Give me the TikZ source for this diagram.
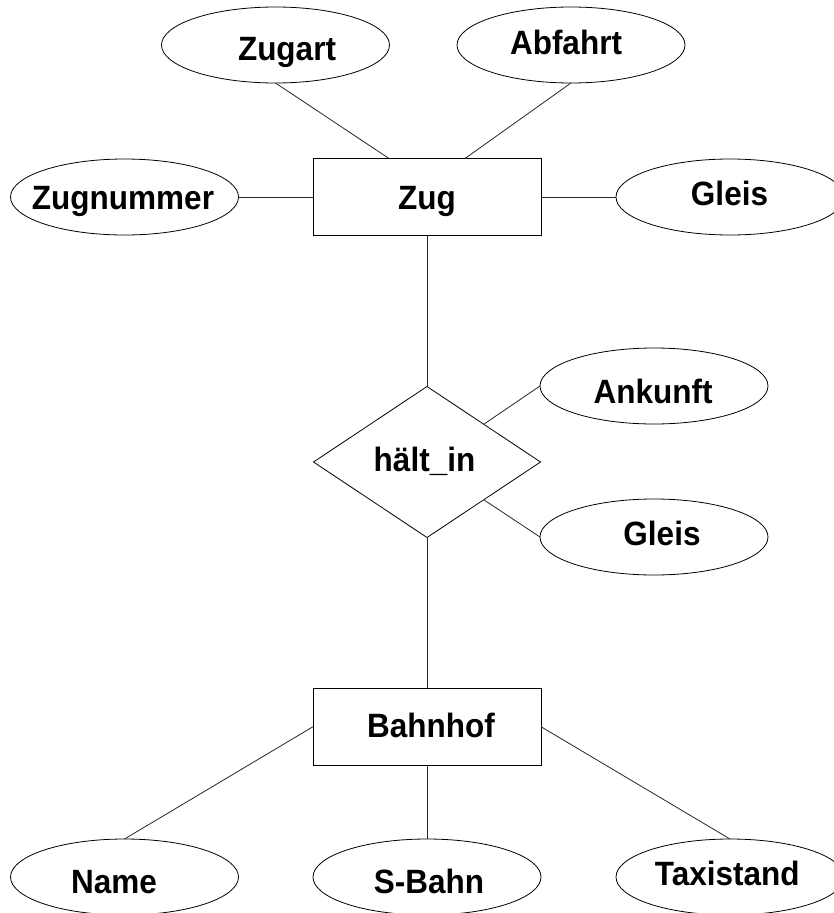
\documentclass[tikz,border=0pt]{standalone}
\usepackage{fontspec}
\setmainfont{Liberation Sans}
\usetikzlibrary{shapes.geometric,calc}
\newcommand{\erlab}[1]{\scalebox{1}[1.07]{#1}}
\begin{document}
\begin{tikzpicture}[x=1pt,y=-1pt,
  every node/.style={inner sep=0pt, outer sep=0pt},
  attr/.style={draw, ellipse, line width=0.8pt, minimum width=228pt, minimum height=76pt},
  ent/.style={draw, rectangle, line width=0.8pt, minimum width=228pt, minimum height=77pt},
  rel/.style={draw, diamond, line width=0.8pt, minimum width=227pt, minimum height=151pt},
  lbl/.style={anchor=base, font=\fontsize{31.5}{32}\selectfont\bfseries},
  conn/.style={line width=0.8pt, black!85}]
\useasboundingbox (0,0) rectangle (834,913);
% shapes
\node[ent]  (zug)       at (427,197) {};
\node[attr] (zugart)    at (275.5,45) {};
\node[attr] (abfahrt)   at (571,45) {};
\node[attr] (zugnummer) at (124.5,197) {};
\node[attr] (gleisA)    at (730,197) {};
\node[rel]  (haelt)     at (427,462) {};
\node[attr] (ankunft)   at (654,386) {};
\node[attr] (gleisB)    at (654,537) {};
\node[ent]  (bahnhof)   at (427,726.7) {};
\node[attr] (name)      at (124.5,877) {};
\node[attr] (sbahn)     at (427,877) {};
\node[attr] (taxi)      at (730,877) {};
% labels
\node[lbl] (tzugart)    at (287,60) {\erlab{Zugart}};
\node[lbl] (tabfahrt)   at (566,54.5) {\erlab{Abfahrt}};
\node[lbl] (tzugnummer) at (123,209.5) {\erlab{Zugnummer}};
\node[lbl] (tzug)       at (427,209) {\erlab{Zug}};
\node[lbl] (tgleisA)    at (729.5,205.5) {\erlab{Gleis}};
\node[lbl] (tankunft)   at (653,403) {\erlab{Ankunft}};
\node[lbl] (tgleisB)    at (662,545) {\erlab{Gleis}};
\node[lbl] (thaelt)     at (424.5,471) {\erlab{hält\_in}};
\node[lbl] (tbahnhof)   at (431,737) {\erlab{Bahnhof}};
\node[lbl] (tname)      at (114,893) {\erlab{Name}};
\node[lbl] (tsbahn)     at (429,893) {\erlab{S-Bahn}};
\node[lbl] (ttaxi)      at (727.3,885) {\erlab{Taxistand}};
% connectors
\draw[conn] (zugart.south) -- ([xshift=-38pt]zug.north);
\draw[conn] (abfahrt.south) -- ([xshift=38pt]zug.north);
\draw[conn] (zugnummer.east) -- (zug.west);
\draw[conn] (zug.east) -- (gleisA.west);
\draw[conn] (zug.south) -- (haelt.north);
\draw[conn] (ankunft.west) -- ($(haelt.north)!.5!(haelt.east)$);
\draw[conn] (gleisB.west) -- ($(haelt.south)!.5!(haelt.east)$);
\draw[conn] (haelt.south) -- (bahnhof.north);
\draw[conn] (bahnhof.west) -- (name.north);
\draw[conn] (bahnhof.south) -- (sbahn.north);
\draw[conn] (bahnhof.east) -- (taxi.north);
\end{tikzpicture}
\end{document}
